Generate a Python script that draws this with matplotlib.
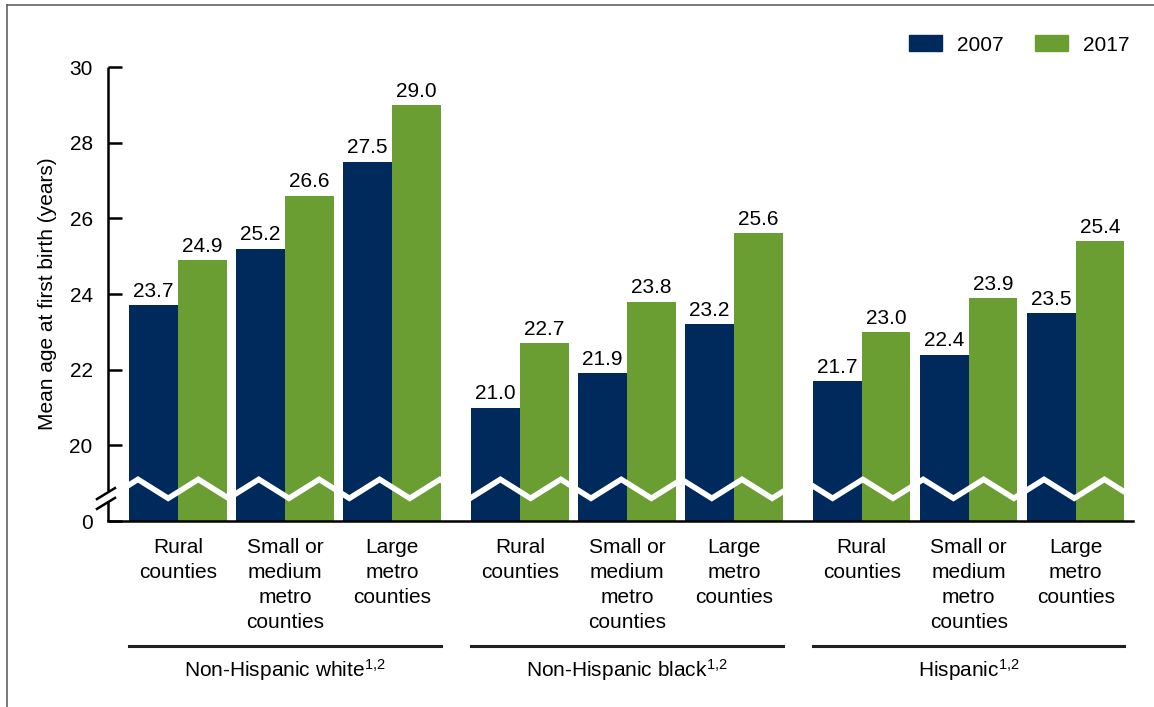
import numpy as np
import matplotlib
matplotlib.use("Agg")
import matplotlib.pyplot as plt
import matplotlib.transforms as mtransforms
from matplotlib.lines import Line2D
from matplotlib.patches import Rectangle, Patch

plt.rcParams['font.family'] = ['Liberation Sans', 'DejaVu Sans']
plt.rcParams['mathtext.fontset'] = 'custom'
plt.rcParams['mathtext.rm'] = 'Liberation Sans'
plt.rcParams['mathtext.it'] = 'Liberation Sans:italic'

groups = ['Non-Hispanic white$^{\\mathrm{1{,}2}}$',
          'Non-Hispanic black$^{\\mathrm{1{,}2}}$',
          'Hispanic$^{\\mathrm{1{,}2}}$']
counties = ['Rural\ncounties', 'Small or\nmedium\nmetro\ncounties', 'Large\nmetro\ncounties']
y2007 = [23.7, 25.2, 27.5, 21.0, 21.9, 23.2, 21.7, 22.4, 23.5]
y2017 = [24.9, 26.6, 29.0, 22.7, 23.8, 25.6, 23.0, 23.9, 25.4]
yticks = [0, 20, 22, 24, 26, 28, 30]

navy = '#002a5c'
green = '#6b9e32'
base = 18  # where "0" sits once the axis is broken

fig = plt.figure(figsize=(11.54, 7.07), dpi=100)
ax = fig.add_axes([108/1154, 186/707, 1025/1154, 454/707])

pos = np.array([g*3.195 + i for g in range(3) for i in range(3)])
w = 0.455

b1 = ax.bar(pos - w/2, np.array(y2007) - base, w, bottom=base, color=navy, zorder=2)
b2 = ax.bar(pos + w/2, np.array(y2017) - base, w, bottom=base, color=green, zorder=2)

for bars, vals in ((b1, y2007), (b2, y2017)):
    for r, v in zip(bars, vals):
        ax.annotate('%.1f' % v, (r.get_x() + r.get_width()/2, v), xytext=(0, 3),
                    textcoords='offset points', ha='center', va='bottom', fontsize=15)

# zigzag break across the bars
per = 0.5645
xs = -0.374 - per/2 + per/2*np.arange(36)
ys = np.where(np.arange(36) % 2 == 0, 18.6, 19.1)
zz, = ax.plot(xs, ys, color='white', lw=4, zorder=3, solid_joinstyle='miter')
clip = Rectangle((pos[0] - w, 17), pos[-1] - pos[0] + 2*w, 4, transform=ax.transData)
zz.set_clip_path(clip)

ax.set_xlim(-0.654, 8.925)
ax.set_ylim(18, 30)
ax.set_yticks([base] + yticks[1:])
ax.set_yticklabels([str(t) for t in yticks])
ax.set_xticks(pos)
ax.set_xticklabels(counties * 3, linespacing=1.4)
ax.tick_params(axis='y', direction='in', length=10, width=1.8, pad=11, labelsize=15)
ax.tick_params(axis='x', length=0, pad=12.5, labelsize=15)
for s in ('top', 'right', 'left'):
    ax.spines[s].set_visible(False)
ax.spines['bottom'].set_linewidth(1.8)

# left axis drawn in two pieces with a break
ax.plot([-0.654, -0.654], [18, 18.52], color='black', lw=1.8, clip_on=False, solid_capstyle='butt')
ax.plot([-0.654, -0.654], [18.79, 30], color='black', lw=1.8, clip_on=False, solid_capstyle='butt')
for y0 in (18.58, 18.32):
    ax.plot([-0.757, -0.589], [y0, y0 + 0.29], color='black', lw=1.8, clip_on=False)

fig.text(48/1154, 1 - 294/707, 'Mean age at first birth (years)', rotation=90,
         ha='center', va='center', fontsize=15)

# group rules and names under the category labels
bt = mtransforms.blended_transform_factory(ax.transData, fig.transFigure)
for g, name in enumerate(groups):
    x0 = pos[g*3] - w
    x1 = pos[g*3 + 2] + w
    ax.add_line(Line2D([x0, x1], [1 - 646/707]*2, transform=bt, color='#231f20',
                       lw=2.2, clip_on=False))
    ax.text((x0 + x1)/2, 1 - 677/707, name, transform=bt, ha='center',
            va='baseline', fontsize=15)

handles = [Patch(color=navy, label='2007'), Patch(color=green, label='2017')]
fig.legend(handles=handles, loc='center right', bbox_to_anchor=(1129/1154, 1 - 45/707),
           ncol=2, frameon=False, fontsize=15, handlelength=1.58, handleheight=0.8,
           handletextpad=0.72, columnspacing=1.5, borderpad=0, borderaxespad=0)

# outer frame, top and left only
fig.add_artist(Line2D([7/1154, 1], [1 - 5/707]*2, transform=fig.transFigure, color='#555555', lw=1.1))
fig.add_artist(Line2D([7/1154]*2, [0, 1 - 5/707], transform=fig.transFigure, color='#555555', lw=1.1))

fig.savefig('out.png', dpi=100)
